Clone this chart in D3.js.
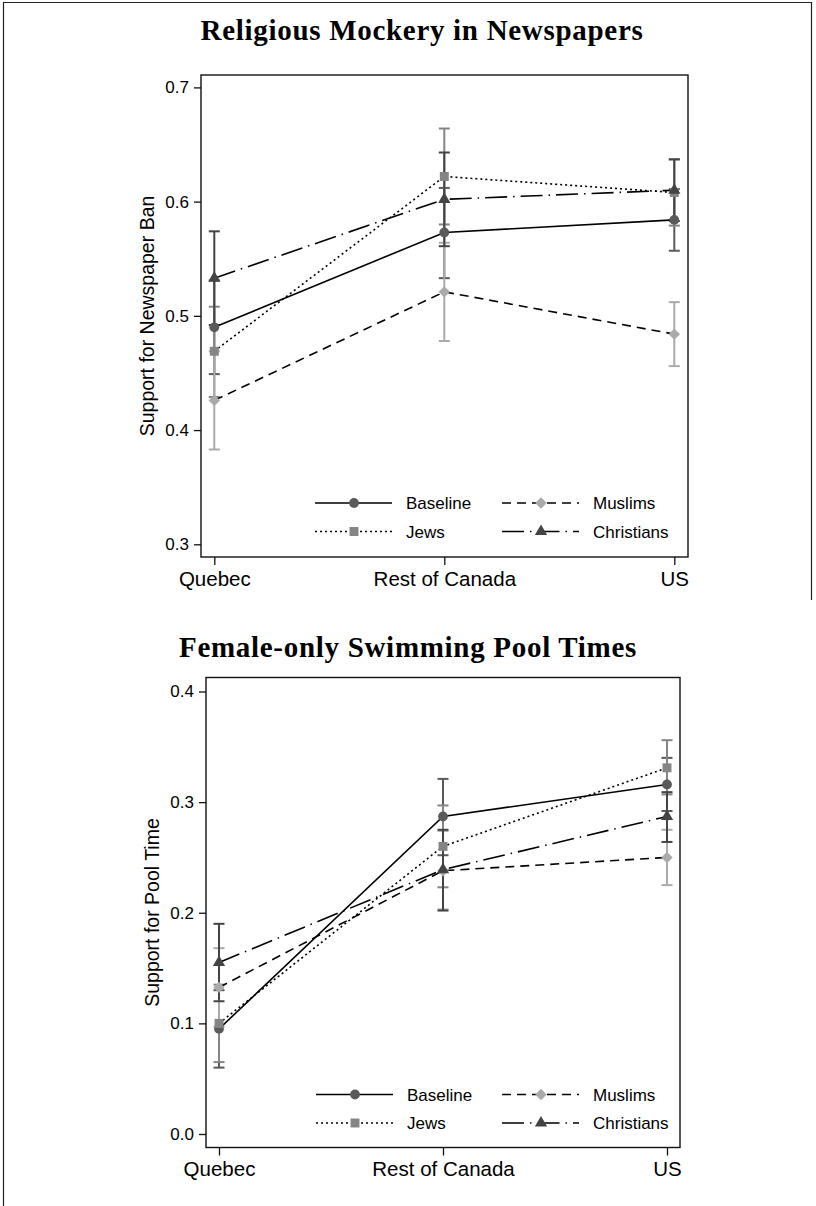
<!DOCTYPE html>
<html>
<head>
<meta charset="utf-8">
<script src="https://cdn.jsdelivr.net/npm/d3@7"></script>
<style>
  body { margin: 0; background: #fff; }
  svg { display: block; }
  .tick text { font-family: "Liberation Sans", Arial, sans-serif; fill: #000; }
</style>
</head>
<body>
<div id="chart"></div>
<script>
// data

let regions = ["Quebec", "Rest of Canada", "US"];
let groups = ["Baseline", "Jews", "Muslims", "Christians"];

// Religious Mockery in Newspapers
let newsTicks = [0.3, 0.4, 0.5, 0.6, 0.7];
let newsEst = {
  Baseline:   [0.490, 0.573, 0.584],
  Jews:       [0.469, 0.622, 0.608],
  Muslims:    [0.426, 0.521, 0.484],
  Christians: [0.533, 0.602, 0.610]
};
let newsLow = {
  Baseline:   [0.449, 0.533, 0.557],
  Jews:       [0.429, 0.580, 0.579],
  Muslims:    [0.383, 0.478, 0.456],
  Christians: [0.492, 0.561, 0.583]
};
let newsHigh = {
  Baseline:   [0.531, 0.612, 0.611],
  Jews:       [0.508, 0.664, 0.637],
  Muslims:    [0.469, 0.564, 0.512],
  Christians: [0.574, 0.643, 0.637]
};

// Female-only Swimming Pool Times
let poolTicks = [0.0, 0.1, 0.2, 0.3, 0.4];
let poolEst = {
  Baseline:   [0.095, 0.287, 0.316],
  Jews:       [0.100, 0.260, 0.331],
  Muslims:    [0.1325, 0.238, 0.250],
  Christians: [0.155, 0.239, 0.287]
};
let poolLow = {
  Baseline:   [0.060, 0.252, 0.292],
  Jews:       [0.065, 0.223, 0.307],
  Muslims:    [0.097, 0.203, 0.225],
  Christians: [0.120, 0.202, 0.264]
};
let poolHigh = {
  Baseline:   [0.130, 0.321, 0.340],
  Jews:       [0.135, 0.297, 0.356],
  Muslims:    [0.168, 0.274, 0.275],
  Christians: [0.190, 0.275, 0.309]
};

// styles per group
let markColor = { Baseline: "#5a5a5a", Jews: "#858585", Muslims: "#aaaaaa", Christians: "#444444" };
let dashes = { Baseline: null, Jews: "2,3", Muslims: "9,6", Christians: "22,6,1.5,6" };
let shapes = { Baseline: d3.symbolCircle, Jews: d3.symbolSquare, Muslims: d3.symbolSquare, Christians: d3.symbolTriangle };
let shapeSize = { Baseline: 75, Jews: 80, Muslims: 65, Christians: 65 };
let shapeRot = { Baseline: 0, Jews: 0, Muslims: 45, Christians: 0 };

let svgWidth = 816;
let svgHeight = 1206;

let svg = d3.select("#chart")
  .append("svg")
  .attr("width", svgWidth)
  .attr("height", svgHeight);

// outer frame
svg.append("path")
  .attr("d", "M3.5,1206 V2.5 H811.5 V600")
  .attr("fill", "none")
  .attr("stroke", "#222")
  .attr("stroke-width", 1.2);

function drawPanel(opt) {
  let g = svg.append("g");

  let x = d3.scalePoint().domain(regions).range(opt.xRange);
  let y = d3.scaleLinear().domain(opt.yDomain).range(opt.yRange);

  // title
  g.append("text")
    .attr("x", opt.titleX)
    .attr("y", opt.titleY)
    .attr("text-anchor", "middle")
    .style("font-family", "'Liberation Serif', 'DejaVu Serif', serif")
    .style("font-weight", "bold")
    .style("font-size", "29px")
    .style("letter-spacing", "0.7px")
    .text(opt.title);

  // plot box
  g.append("rect")
    .attr("x", opt.box.left)
    .attr("y", opt.box.top)
    .attr("width", opt.box.right - opt.box.left)
    .attr("height", opt.box.bottom - opt.box.top)
    .attr("fill", "none")
    .attr("stroke", "#111")
    .attr("stroke-width", 1.4);

  // y axis
  let yAxis = g.append("g")
    .attr("transform", `translate(${opt.box.left},0)`)
    .call(d3.axisLeft(y).tickValues(opt.ticks).tickFormat(d3.format(".1f")).tickSize(7).tickPadding(5));
  yAxis.select(".domain").remove();
  yAxis.selectAll(".tick line").attr("stroke", "#111").attr("stroke-width", 1.3);
  yAxis.selectAll(".tick text").style("font-size", "17px");

  // x axis
  let xAxis = g.append("g")
    .attr("transform", `translate(0,${opt.box.bottom})`)
    .call(d3.axisBottom(x).tickSize(8).tickPadding(6));
  xAxis.select(".domain").remove();
  xAxis.selectAll(".tick line").attr("stroke", "#111").attr("stroke-width", 1.3);
  xAxis.selectAll(".tick text").style("font-size", "20.5px");

  // y title
  g.append("text")
    .attr("transform", `translate(${opt.yTitleX},${(opt.box.top + opt.box.bottom) / 2}) rotate(-90)`)
    .attr("text-anchor", "middle")
    .style("font-family", "'Liberation Sans', Arial, sans-serif")
    .style("font-size", "19.5px")
    .text(opt.yTitle);

  // error bars
  groups.forEach(function(grp) {
    let bars = g.append("g")
      .attr("stroke", markColor[grp])
      .attr("stroke-width", 2)
      .attr("fill", "none");
    regions.forEach(function(r, i) {
      let lo = y(opt.low[grp][i]);
      let hi = y(opt.high[grp][i]);
      let cx = x(r);
      bars.append("line").attr("x1", cx).attr("x2", cx).attr("y1", lo).attr("y2", hi);
      bars.append("line").attr("x1", cx - 5.5).attr("x2", cx + 5.5).attr("y1", lo).attr("y2", lo);
      bars.append("line").attr("x1", cx - 5.5).attr("x2", cx + 5.5).attr("y1", hi).attr("y2", hi);
    });
  });

  // connecting lines
  let line = d3.line()
    .x((d, i) => x(regions[i]))
    .y(d => y(d));

  groups.forEach(function(grp) {
    g.append("path")
      .datum(opt.est[grp])
      .attr("d", line)
      .attr("fill", "none")
      .attr("stroke", "#000")
      .attr("stroke-width", 1.6)
      .attr("stroke-dasharray", dashes[grp]);
  });

  // markers
  groups.forEach(function(grp) {
    g.selectAll(null)
      .data(opt.est[grp])
      .enter()
      .append("path")
      .attr("d", d3.symbol().type(shapes[grp]).size(shapeSize[grp]))
      .attr("transform", (d, i) => `translate(${x(regions[i])},${y(d)}) rotate(${shapeRot[grp]})`)
      .attr("fill", markColor[grp]);
  });

  // legend
  let leg = g.append("g");
  groups.forEach(function(grp, i) {
    let col = i === 0 || i === 1 ? 0 : 1;
    let row = i === 0 || i === 2 ? 0 : 1;
    let lx = opt.legend.x[col];
    let ly = opt.legend.y[row];
    leg.append("line")
      .attr("x1", lx).attr("x2", lx + 77)
      .attr("y1", ly).attr("y2", ly)
      .attr("stroke", "#000")
      .attr("stroke-width", 1.6)
      .attr("stroke-dasharray", dashes[grp]);
    leg.append("path")
      .attr("d", d3.symbol().type(shapes[grp]).size(shapeSize[grp]))
      .attr("transform", `translate(${lx + 39},${ly}) rotate(${shapeRot[grp]})`)
      .attr("fill", markColor[grp]);
    leg.append("text")
      .attr("x", lx + 91)
      .attr("y", ly + 6)
      .style("font-family", "'Liberation Sans', Arial, sans-serif")
      .style("font-size", "17px")
      .text(grp);
  });
}

drawPanel({
  title: "Religious Mockery in Newspapers",
  titleX: 422,
  titleY: 40,
  yTitle: "Support for Newspaper Ban",
  yTitleX: 154,
  box: { left: 201, right: 688, top: 75, bottom: 557 },
  xRange: [214.3, 674.3],
  yDomain: [0.3, 0.7],
  yRange: [544.3, 87.4],
  ticks: newsTicks,
  est: newsEst,
  low: newsLow,
  high: newsHigh,
  legend: { x: [315, 502], y: [503, 531.5] }
});

drawPanel({
  title: "Female-only Swimming Pool Times",
  titleX: 408,
  titleY: 657,
  yTitle: "Support for Pool Time",
  yTitleX: 159,
  box: { left: 206, right: 680, top: 677.5, bottom: 1147.5 },
  xRange: [219, 667],
  yDomain: [0.0, 0.4],
  yRange: [1134, 691.5],
  ticks: poolTicks,
  est: poolEst,
  low: poolLow,
  high: poolHigh,
  legend: { x: [316, 502], y: [1094.5, 1123] }
});
</script>
</body>
</html>
